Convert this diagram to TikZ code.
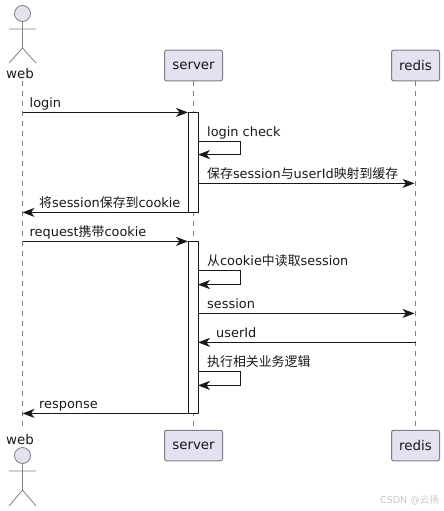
\documentclass[tikz,border=0pt]{standalone}
\usepackage{fontspec}
\setmainfont{DejaVu Sans}
\newfontfamily\cjk{Noto Sans CJK SC}
\usetikzlibrary{arrows.meta}
\definecolor{pfill}{HTML}{E2E2F0}
\definecolor{pline}{HTML}{7F7F85}
\definecolor{ink}{HTML}{181818}
\tikzset{
  x=1pt,y=-1pt,
  partbox/.style={draw=pline,fill=pfill,rounded corners=2pt,line width=1pt,minimum width=#1,minimum height=30.5pt,inner sep=0pt,text=ink,font=\fontsize{13.4}{15}\selectfont},
  lifeline/.style={draw=pline,line width=.8pt,dash pattern=on 5pt off 5pt},
  actorline/.style={draw=pline,line width=.8pt},
  actorhead/.style={circle,draw=pline,fill=pfill,line width=.8pt,minimum size=16pt,inner sep=0pt},
  actlabel/.style={inner sep=0pt,anchor=base,text=ink,font=\fontsize{13.4}{15}\selectfont},
  actbar/.style={draw=ink,fill=white,line width=1pt,minimum width=10pt,inner sep=0pt,outer sep=0pt},
  msg/.style={draw=ink,line width=1pt,-{Stealth[length=12pt,width=9pt,inset=3.5pt]}},
  msglabel/.style={inner sep=0pt,anchor=base west,text=ink,font=\fontsize{12.9}{15}\selectfont},
}
\begin{document}
\begin{tikzpicture}
\useasboundingbox (0,0) rectangle (444,511);
% participants
\node[partbox=58pt] (servertop) at (193.5,65.5) {server};
\node[partbox=48pt] (redistop) at (415.5,65.5) {redis};
\node[partbox=58pt] (serverbot) at (193.5,445.5) {server};
\node[partbox=48pt] (redisbot) at (415.5,445.5) {redis};
% actors
\node[actlabel] (webtop) at (20,78) {web};
\node[actlabel] (webbot) at (20,444) {web};
\coordinate (webfoot) at (22.5,80.5);
\coordinate (webhead) at (22.5,430);
\node[actorhead] (headtop) at (22.5,13.5) {};
\node[actorhead] (headbot) at (22.5,455.5) {};
\coordinate (hip1) at (22.5,48);
\coordinate (hip2) at (22.5,490);
\draw[actorline] (headtop.south) -- (hip1) (9,29) -- (36,29) (9,63) -- (hip1) -- (36,63);
\draw[actorline] (headbot.south) -- (hip2) (9,471) -- (36,471) (9,506) -- (hip2) -- (36,506);
% lifelines
\draw[lifeline] (webfoot) -- (webhead);
\draw[lifeline] (servertop.south) -- (serverbot.north);
\draw[lifeline] (redistop.south) -- (redisbot.north);
% activations
\node[actbar,minimum height=100pt] (bara) at (193,162.4) {};
\node[actbar,minimum height=172pt] (barb) at (193,327.4) {};
% message endpoints
\coordinate (w1) at (22.5,112.4);
\coordinate (w2) at (22.5,212.4);
\coordinate (w3) at (22.5,241.4);
\coordinate (w4) at (22.5,413.4);
\coordinate (r1) at (414.5,183.4);
\coordinate (r2) at (414.5,313.4);
\coordinate (r3) at (415.5,342.4);
\coordinate (sa) at (198,141.6);
\coordinate (sb) at (198,154.6);
\coordinate (sc) at (198,183.4);
\coordinate (sd) at (198,270.6);
\coordinate (se) at (198,284.6);
\coordinate (sf) at (198,313.4);
\coordinate (sg) at (198,342.4);
\coordinate (sh) at (198,371.4);
\coordinate (si) at (198,385.4);
% messages
\draw[msg] (w1) -- (bara.north west);
\draw[msg] (sa) -- ++(42.5,0) -- ++(0,13) -- (sb);
\draw[msg] (sc) -- (r1);
\draw[msg] (bara.south west) -- (w2);
\draw[msg] (w3) -- (barb.north west);
\draw[msg] (sd) -- ++(42.5,0) -- ++(0,14) -- (se);
\draw[msg] (sf) -- (r2);
\draw[msg] (r3) -- (sg);
\draw[msg] (sh) -- ++(42.5,0) -- ++(0,14) -- (si);
\draw[msg] (barb.south west) -- (w4);
% labels
\node[msglabel] (l1) at (29.5,107.5) {login};
\node[msglabel] (l2) at (207,136.5) {login check};
\node[msglabel] (l3) at (207,178.5) {{\cjk 保存}session{\cjk 与}userId{\cjk 映射到缓存}};
\node[msglabel] (l4) at (39,207.5) {{\cjk 将}session{\cjk 保存到}cookie};
\node[msglabel] (l5) at (29.5,236.5) {request{\cjk 携带}cookie};
\node[msglabel] (l6) at (207,265.5) {{\cjk 从}cookie{\cjk 中读取}session};
\node[msglabel] (l7) at (207,308.5) {session};
\node[msglabel] (l8) at (216,337.5) {userId};
\node[msglabel] (l9) at (207,366.5) {{\cjk 执行相关业务逻辑}};
\node[msglabel] (l10) at (39,408.5) {response};
% watermark
\node[inner sep=0pt,anchor=base east,text=black!22,font=\fontsize{9.5}{11}\selectfont] (mark) at (439,503) {CSDN @{\cjk 云扬}};
\end{tikzpicture}
\end{document}
